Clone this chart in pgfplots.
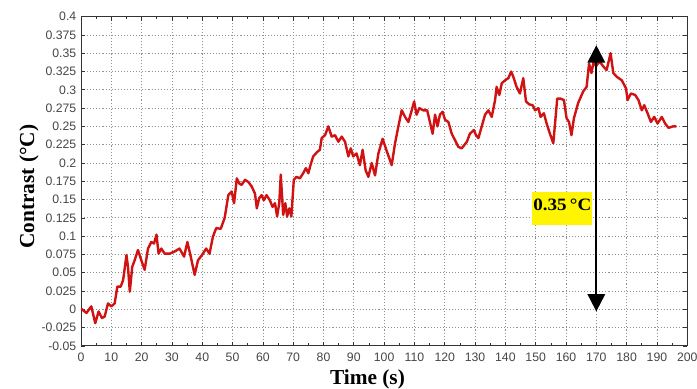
\documentclass[border=0pt]{standalone}
\usepackage{fontspec}
\setmainfont{Liberation Serif}
\newfontfamily\tickfont{Liberation Sans}
\usepackage{pgfplots}
\pgfplotsset{compat=1.18}
\usetikzlibrary{arrows.meta}

\definecolor{curvered}{RGB}{208,18,18}
\definecolor{gridgray}{RGB}{145,145,145}
\definecolor{ticktext}{RGB}{70,70,70}
\definecolor{boxyellow}{RGB}{255,245,0}

\begin{document}
\begin{tikzpicture}
\begin{axis}[
  name=ax,
  scale only axis,
  width=454.7pt, height=246.9pt,
  xmin=0, xmax=200, ymin=-0.05, ymax=0.4,
  xtick={0,10,...,200},
  minor x tick num=1,
  ytick={-0.05,-0.025,0,0.025,0.05,0.075,0.1,0.125,0.15,0.175,0.2,0.225,0.25,0.275,0.3,0.325,0.35,0.375,0.4},
  yticklabels={-0.05,-0.025,0,0.025,0.05,0.075,0.1,0.125,0.15,0.175,0.2,0.225,0.25,0.275,0.3,0.325,0.35,0.375,0.4},
  tick align=inside,
  major tick length=3.2pt,
  minor tick length=2pt,
  tick style={black!80, line width=0.5pt},
  axis line style={black!80, line width=0.7pt},
  grid=major,
  major grid style={gridgray, line width=0.55pt, dash pattern=on 0.8pt off 1.5pt},
  ticklabel style={font=\tickfont\fontsize{9.2}{10}\selectfont, text=ticktext},
  xticklabel style={yshift=-1.5pt},
  /pgf/number format/assume math mode=true,
  xlabel={Time (s)},
  ylabel={Contrast (°C)},
  label style={font=\bfseries\fontsize{16}{18}\selectfont},
  xlabel style={at={(axis description cs:0.4725,-0.1187)}, anchor=base},
  ylabel style={at={(axis description cs:-0.0775,0.484)}, anchor=base},
]
\addplot[curvered, line width=1.8pt, line join=round] coordinates {
(0,0.001) (1.8,-0.005) (3.4,0.004) (4.7,-0.019) (5.8,-0.003) (6.9,-0.012)
(7.8,-0.01) (8.9,0.008) (10,0.004) (11.1,0.008) (12,0.031) (13.1,0.031)
(13.9,0.04) (15,0.074) (15.5,0.058) (16.1,0.024) (16.9,0.058) (17.7,0.067)
(18.8,0.081) (19.9,0.067) (21,0.054) (22.1,0.083) (23.2,0.092) (24.1,0.09)
(24.9,0.102) (25.6,0.076) (26.5,0.083) (27.6,0.076) (29.2,0.076) (30.9,0.079)
(32.5,0.083) (34,0.072) (35.1,0.092) (36.2,0.072) (37.5,0.047) (38.6,0.067)
(39.9,0.074) (41.3,0.083) (42.4,0.076) (43.5,0.099) (44.6,0.111) (46.1,0.11)
(47.4,0.125) (48.6,0.156) (49.7,0.161) (50.5,0.145) (51.4,0.179) (52.2,0.172)
(53,0.17) (54.1,0.177) (55.2,0.174) (56.3,0.168) (57.4,0.158) (58,0.138)
(58.8,0.152) (59.6,0.156) (60.3,0.149) (61.2,0.156) (62.3,0.149) (63.2,0.14)
(64,0.145) (64.7,0.127) (65.4,0.145) (65.9,0.184) (66.7,0.129) (67.4,0.145)
(68,0.127) (68.7,0.138) (69.4,0.127) (70.2,0.177) (71.1,0.181) (72.2,0.179)
(73.3,0.186) (74.2,0.193) (75,0.186) (75.7,0.197) (76.6,0.209) (77.9,0.215)
(78.8,0.218) (79.4,0.234) (80.5,0.238) (81.6,0.25) (82.7,0.236) (83.8,0.238)
(84.9,0.229) (86,0.236) (87.1,0.229) (88.2,0.209) (89,0.22) (89.8,0.209)
(90.9,0.213) (92,0.197) (92.9,0.218) (93.9,0.19) (94.8,0.181) (95.9,0.2)
(97,0.183) (98.1,0.213) (99.5,0.233) (100.8,0.217) (102.5,0.197) (103.6,0.227)
(104.7,0.25) (105.8,0.272) (106.9,0.263) (108,0.256) (109.1,0.272) (109.9,0.284)
(110.7,0.266) (111.6,0.275) (112.9,0.272) (114.2,0.272) (115.1,0.256) (116,0.24)
(116.8,0.266) (117.6,0.25) (118.4,0.266) (119.3,0.27) (120.1,0.259) (121.2,0.256)
(122.3,0.24) (123.4,0.231) (124.5,0.222) (125.6,0.22) (127.3,0.229) (128.3,0.24)
(129.6,0.245) (130.3,0.238) (131.1,0.234) (132.2,0.25) (133.3,0.266) (134.4,0.272)
(135.5,0.263) (136.6,0.286) (137.1,0.304) (138,0.293) (138.8,0.309) (139.9,0.313)
(141,0.316) (141.9,0.325) (142.6,0.318) (143.7,0.304) (144.8,0.295) (145.9,0.316)
(146.8,0.284) (147.9,0.28) (149,0.279) (149.8,0.272) (150.9,0.275) (151.6,0.263)
(152.7,0.268) (153.6,0.254) (154.7,0.24) (155.8,0.227) (156.3,0.25) (157.1,0.288)
(158.2,0.288) (159.3,0.286) (160.2,0.261) (161,0.256) (161.8,0.238) (162.6,0.261)
(164,0.282) (165.7,0.298) (166.8,0.304) (167.6,0.336) (168.4,0.323) (169.2,0.341)
(169.9,0.332) (171,0.339) (172.3,0.332) (173.4,0.327) (174.7,0.35) (175.6,0.323)
(176.7,0.318) (178.4,0.313) (179.8,0.302) (180.3,0.286) (181.4,0.295) (182.8,0.293)
(183.9,0.286) (185,0.272) (185.8,0.279) (186.9,0.268) (188,0.256) (189.1,0.263)
(190.2,0.254) (191.6,0.263) (192.7,0.254) (193.8,0.248) (195.3,0.25) (196.4,0.25)
};
% double-headed arrow marking the overall rise
\draw[line width=1.5pt, {Triangle[width=13pt,length=13pt]}-{Triangle[width=13pt,length=13pt]}]
  (axis cs:170,-0.003) -- (axis cs:170,0.361);
% highlighted amplitude label
\node[fill=boxyellow, minimum width=45pt, minimum height=25pt, inner sep=0pt]
  at (axis cs:158.6,0.138) {};
\node[anchor=base, inner sep=0pt, xscale=1.1, font=\bfseries\fontsize{13}{15}\selectfont]
  at (axis cs:158.8,0.1357) {0.35\,°C};
\end{axis}
\pgfresetboundingbox
\path[use as bounding box]
  ([xshift=-60.75pt,yshift=-32.3pt]ax.south west) rectangle
  ([xshift=7.3pt,yshift=12.5pt]ax.north east);
\end{tikzpicture}
\end{document}
